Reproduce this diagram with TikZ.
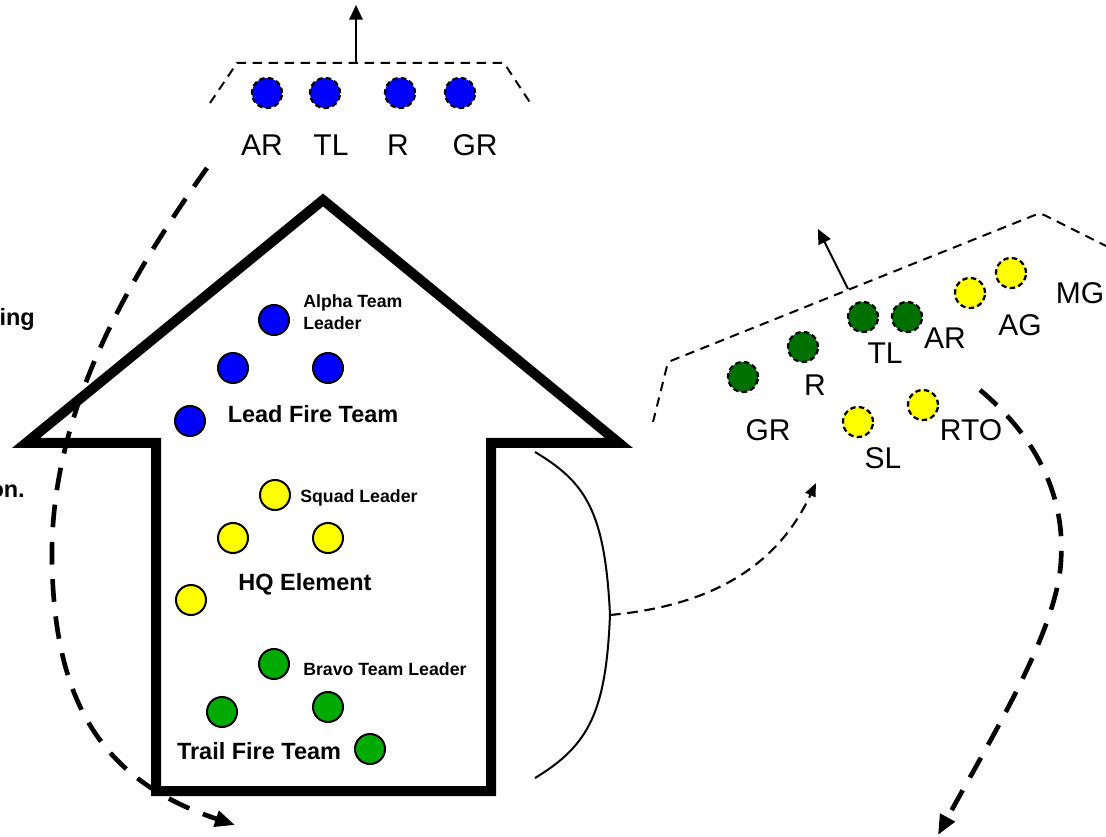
\documentclass[tikz,border=0pt]{standalone}
\usepackage{fontspec}
\setmainfont{Liberation Sans}
\usepackage{tikz}
\usetikzlibrary{arrows.meta}

\definecolor{teamblue}{RGB}{0,0,255}
\definecolor{teamyellow}{RGB}{255,255,0}
\definecolor{teamgreen}{RGB}{0,170,0}
\definecolor{fmgreen}{RGB}{0,112,0}

\tikzset{
  member/.style={circle,draw=black,line width=1.5pt,minimum size=22.5pt,inner sep=0pt},
  fmmember/.style={member,line width=1.7pt,dash pattern=on 4pt off 2.5pt},
  biglabel/.style={font=\fontsize{17.6}{20}\selectfont\bfseries,inner sep=0pt},
  smalllabel/.style={font=\fontsize{13.3}{16.5}\selectfont\bfseries,align=left,inner sep=0pt},
  poslabel/.style={font=\fontsize{22.5}{26}\selectfont,inner sep=0pt},
  frontage/.style={line width=1.5pt,dash pattern=on 7pt off 5pt},
  heading/.style={line width=1.5pt,-{Triangle[length=11pt,width=10pt]}},
  moveline/.style={line width=3.5pt,dash pattern=on 17pt off 11pt,-{Triangle[length=15pt,width=12pt]}},
}

\begin{document}
\begin{tikzpicture}[x=0.75pt,y=-0.75pt]
  \useasboundingbox (0,0) rectangle (1106,837);

  % squad column arrow
  \draw[line width=7.5pt,miter limit=10] (323,200) -- (619,443) -- (491,443) -- (491,791)
    -- (156,791) -- (156,443) -- (26,443) -- cycle;

  % lead fire team
  \node[member,fill=teamblue] (atl) at (274,320) {};
  \node[member,fill=teamblue] (aar) at (233,368) {};
  \node[member,fill=teamblue] (agr) at (328,368) {};
  \node[member,fill=teamblue] (ar)  at (190,421) {};
  \node[smalllabel,anchor=north west] (atltext) at (303,294) {Alpha Team\\Leader};
  \node[biglabel] (leadtext) at (313,414) {Lead Fire Team};

  % HQ element
  \node[member,fill=teamyellow] (sl)  at (275,495) {};
  \node[member,fill=teamyellow] (rto) at (233,538) {};
  \node[member,fill=teamyellow] (mg)  at (328,538) {};
  \node[member,fill=teamyellow] (ag)  at (191,600) {};
  \node[smalllabel,anchor=north west] (sltext) at (300,489) {Squad Leader};
  \node[biglabel] (hqtext) at (305,584) {HQ Element};

  % trail fire team
  \node[member,fill=teamgreen] (btl) at (274,664) {};
  \node[member,fill=teamgreen] (bar) at (222,712) {};
  \node[member,fill=teamgreen] (bgr) at (328,707) {};
  \node[member,fill=teamgreen] (br)  at (370,749) {};
  \node[smalllabel,anchor=north west] (btltext) at (303,662) {Bravo Team Leader};
  \node[biglabel] (trailtext) at (259,751) {Trail Fire Team};

  % cut text on the left
  \node[biglabel,anchor=base east] (lefttop) at (35,326) {ing};
  \node[biglabel,anchor=base east] (leftbot) at (25,498) {on.};

  % fire team in line (top)
  \draw[frontage] (210,103) -- (237,63) -- (504,63) -- (531,104);
  \coordinate (topfront) at (356,63);
  \coordinate (topdir) at (356,5);
  \draw[heading] (topfront) -- (topdir);
  \node[fmmember,fill=teamblue] (tar) at (267,93) {};
  \node[fmmember,fill=teamblue] (ttl) at (325,93) {};
  \node[fmmember,fill=teamblue] (tr)  at (400,93) {};
  \node[fmmember,fill=teamblue] (tgr) at (460,93) {};
  \node[poslabel] (tartext) at (262,145) {AR};
  \node[poslabel] (ttltext) at (331,145) {TL};
  \node[poslabel] (trtext)  at (398,145) {R};
  \node[poslabel] (tgrtext) at (475,145) {GR};

  % squad on line (right)
  \draw[frontage,rounded corners=3pt] (653,422) -- (668,362) -- (1040,213) -- (1106,246);
  \coordinate (rightfront) at (848,289);
  \coordinate (rightdir) at (818,229);
  \draw[heading] (rightfront) -- (rightdir);
  \node[fmmember,fill=fmgreen] (rgr) at (743,377) {};
  \node[fmmember,fill=fmgreen] (rr)  at (803,347) {};
  \node[fmmember,fill=fmgreen] (rtl) at (863,317) {};
  \node[fmmember,fill=fmgreen] (rar) at (907,317) {};
  \node[fmmember,fill=teamyellow] (rag) at (970,293) {};
  \node[fmmember,fill=teamyellow] (rmg) at (1011,273) {};
  \node[fmmember,fill=teamyellow] (rsl) at (858,422) {};
  \node[fmmember,fill=teamyellow] (rrto) at (923,405) {};
  \node[poslabel] (rgrtext) at (768,430) {GR};
  \node[poslabel] (rrtext)  at (815,385) {R};
  \node[poslabel] (rtltext) at (885,353) {TL};
  \node[poslabel] (rartext) at (945,338) {AR};
  \node[poslabel] (ragtext) at (1020,325) {AG};
  \node[poslabel] (rmgtext) at (1080,293) {MG};
  \node[poslabel] (rsltext) at (883,458) {SL};
  \node[poslabel] (rrtotext) at (971,430) {RTO};

  % bracket and deployment
  \coordinate (brtop) at (535,452);
  \coordinate (brmid) at (610,615);
  \coordinate (brbot) at (535,778);
  \draw[line width=1.5pt] (brtop) .. controls (585,482) and (605,510) .. (brmid)
    .. controls (606,710) and (590,745) .. (brbot);
  \coordinate (deploy) at (816,483);
  \draw[line width=1.6pt,dash pattern=on 8pt off 5pt,-{Triangle[length=10pt,width=8pt]}]
    (brmid) .. controls (720,605) and (780,560) .. (deploy);

  % maneuver routes
  \coordinate (lstart) at (207,168);
  \coordinate (lend) at (235,825);
  \draw[moveline] (lstart) .. controls (120,290) and (50,420) .. (52,560)
    .. controls (54,700) and (100,780) .. (lend);
  \coordinate (rstart) at (980,390);
  \coordinate (rend) at (938,835);
  \draw[moveline] (rstart) .. controls (1040,440) and (1065,500) .. (1061,560)
    .. controls (1058,630) and (990,740) .. (rend);
\end{tikzpicture}
\end{document}
